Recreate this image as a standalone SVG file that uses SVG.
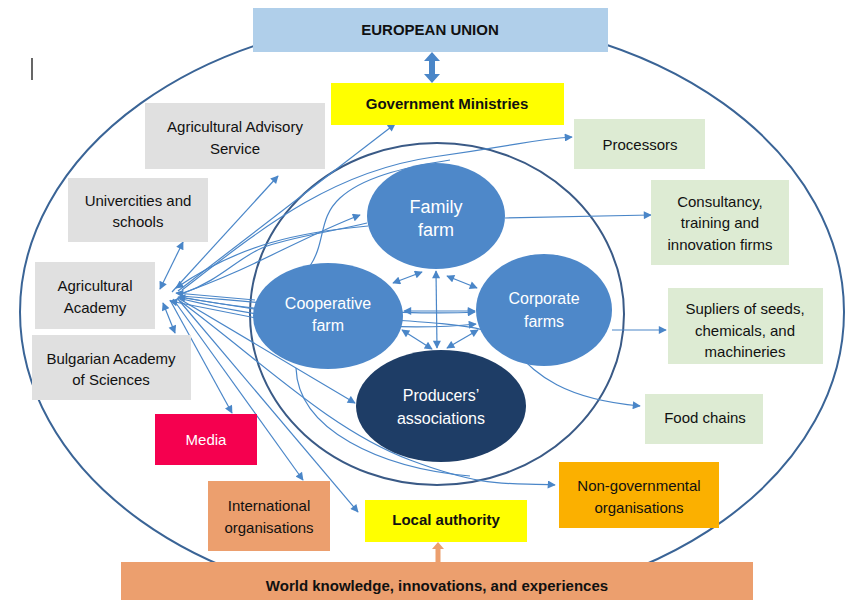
<svg xmlns="http://www.w3.org/2000/svg" width="866" height="609" viewBox="0 0 866 609">
<defs>
<style>
.t{font-family:"Liberation Sans",Arial,sans-serif;font-size:15px;fill:#111;text-anchor:middle}
.b{font-weight:bold}
.w{fill:#fff}
.gray{fill:#e0e0e0}
.green{fill:#ddebd3}
.yel{fill:#ffff00}
.orng{fill:#ec9f6e}
.c{fill:none;stroke:#4a86c8;stroke-width:1.2}
.farm{fill:#4e88c9}
</style>
<marker id="ah" viewBox="0 0 10 10" refX="9" refY="5" markerWidth="10" markerHeight="8" markerUnits="userSpaceOnUse" orient="auto-start-reverse">
<path d="M0,0 L10,5 L0,10 z" fill="#4a86c8"/>
</marker>
<clipPath id="clipTop"><rect x="0" y="0" width="866" height="600"/></clipPath>
</defs>
<rect width="866" height="609" fill="#fff"/>
<line x1="32" y1="58" x2="32" y2="80" stroke="#000" stroke-width="1.2"/>
<ellipse cx="432" cy="312" rx="412" ry="295" fill="none" stroke="#3a6496" stroke-width="2" clip-path="url(#clipTop)"/>
<ellipse cx="437" cy="314" rx="187" ry="171" fill="none" stroke="#3a5a86" stroke-width="2"/>

<g id="connectors">
<path class="c" d="M172,292 L278,176" marker-end="url(#ah)"/>
<path class="c" d="M160,289 L183,242" marker-start="url(#ah)" marker-end="url(#ah)"/>
<path class="c" d="M178,291 L395,124" marker-end="url(#ah)"/>
<path class="c" d="M180,294 C250,270 300,238 360,215" marker-end="url(#ah)"/>
<path class="c" d="M368,226 C300,232 240,244 176,288" marker-end="url(#ah)"/>
<path class="c" d="M182,290 C260,230 330,172 433,157 S530,140 572,137" marker-end="url(#ah)"/>
<path class="c" d="M310,266 C326,242 318,218 340,198 S400,168 450,160"/>
<path class="c" d="M184,293 C220,280 238,258 262,248 S330,232 367,223"/>
<path class="c" d="M255,300 L176,293" marker-end="url(#ah)"/>
<path class="c" d="M254,309 L178,297" marker-end="url(#ah)"/>
<path class="c" d="M256,318 L170,301" marker-end="url(#ah)"/>
<path class="c" d="M182,296 C300,306 400,316 475,312" marker-end="url(#ah)"/>
<path class="c" d="M182,299 C300,328 420,330 476,324" marker-end="url(#ah)"/>
<path class="c" d="M178,298 L355,403" marker-end="url(#ah)"/>
<path class="c" d="M163,303 L175,333" marker-start="url(#ah)" marker-end="url(#ah)"/>
<path class="c" d="M170,300 L232,413" marker-end="url(#ah)"/>
<path class="c" d="M173,299 L303,480" marker-end="url(#ah)"/>
<path class="c" d="M177,298 L358,512" marker-end="url(#ah)"/>
<path class="c" d="M180,301 C260,360 330,430 410,460 S510,482 555,485" marker-end="url(#ah)"/>
<path class="c" d="M296,368 C298,430 380,468 470,476"/>
<path class="c" d="M181,297 C300,320 440,318 483,330 S520,395 640,406" marker-end="url(#ah)"/>
<path class="c" d="M505,218 L651,215" marker-end="url(#ah)"/>
<path class="c" d="M612,330 L666,330" marker-end="url(#ah)"/>
</g>

<g id="cooperative-farm"><ellipse class="farm" cx="328" cy="316" rx="75" ry="53"/><text class="t w" style="font-size:16px" x="328" y="309">Cooperative</text><text class="t w" style="font-size:16px" x="328" y="331">farm</text></g>
<g id="family-farm"><ellipse class="farm" cx="436" cy="216" rx="69" ry="53"/><text class="t w" style="font-size:18px" x="436" y="213">Family</text><text class="t w" style="font-size:18px" x="436" y="236">farm</text></g>
<g id="corporate-farms"><ellipse class="farm" cx="544" cy="310" rx="68" ry="56"/><text class="t w" style="font-size:16px" x="544" y="304">Corporate</text><text class="t w" style="font-size:16px" x="544" y="327">farms</text></g>
<g id="producers-associations"><ellipse cx="441" cy="406" rx="85" ry="56" fill="#1e3d66"/><text class="t w" style="font-size:16px" x="441" y="401">Producers’</text><text class="t w" style="font-size:16px" x="441" y="424">associations</text></g>

<g id="farm-links">
<path class="c" d="M393,283 L422,272" marker-start="url(#ah)" marker-end="url(#ah)"/>
<path class="c" d="M447,276 L477,288" marker-start="url(#ah)" marker-end="url(#ah)"/>
<path class="c" d="M436,271 L437,348" marker-start="url(#ah)" marker-end="url(#ah)"/>
<path class="c" d="M404,311 L475,311" marker-start="url(#ah)" marker-end="url(#ah)"/>
<path class="c" d="M402,330 L432,349" marker-start="url(#ah)" marker-end="url(#ah)"/>
<path class="c" d="M447,348 L478,330" marker-start="url(#ah)" marker-end="url(#ah)"/>
</g>

<g id="european-union"><rect x="253" y="8" width="355" height="44" fill="#b0cfea"/><text class="t b" x="430" y="35">EUROPEAN UNION</text></g>
<polygon points="432,52 440,61 435,61 435,74 440,74 432,83 424,74 429,74 429,61 424,61" fill="#4a86c8"/>
<g id="government-ministries"><rect x="331" y="83" width="233" height="42" class="yel"/><text class="t b" x="447" y="109">Government Ministries</text></g>
<g id="agricultural-advisory-service"><rect x="145" y="103" width="180" height="66" class="gray"/><text class="t" x="235" y="132">Agricultural Advisory</text><text class="t" x="235" y="154">Service</text></g>
<g id="universities"><rect x="68" y="178" width="140" height="64" class="gray"/><text class="t" x="138" y="206">Univercities and</text><text class="t" x="138" y="227">schools</text></g>
<g id="agricultural-academy"><rect x="35" y="262" width="120" height="67" class="gray"/><text class="t" x="95" y="291">Agricultural</text><text class="t" x="95" y="313">Academy</text></g>
<g id="bulgarian-academy"><rect x="32" y="335" width="159" height="65" class="gray"/><text class="t" x="111" y="364">Bulgarian Academy</text><text class="t" x="111" y="385">of Sciences</text></g>
<g id="media"><rect x="155" y="414" width="102" height="51" fill="#f5004f"/><text class="t w" x="206" y="445">Media</text></g>
<g id="international-organisations"><rect x="208" y="481" width="122" height="70" class="orng"/><text class="t" x="269" y="511">International</text><text class="t" x="269" y="533">organisations</text></g>
<g id="local-authority"><rect x="365" y="500" width="162" height="42" class="yel"/><text class="t b" x="446" y="525">Local authority</text></g>
<g id="non-governmental-organisations"><rect x="559" y="462" width="160" height="66" fill="#fbb000"/><text class="t" x="639" y="491">Non-governmental</text><text class="t" x="639" y="513">organisations</text></g>
<g id="food-chains"><rect x="645" y="394" width="118" height="50" class="green"/><text class="t" x="705" y="423">Food chains</text></g>
<g id="suppliers"><rect x="668" y="288" width="155" height="76" class="green"/><text class="t" x="745" y="314">Supliers of seeds,</text><text class="t" x="745" y="336">chemicals, and</text><text class="t" x="745" y="357">machineries</text></g>
<g id="consultancy"><rect x="651" y="180" width="138" height="85" class="green"/><text class="t" x="720" y="207">Consultancy,</text><text class="t" x="720" y="228">training and</text><text class="t" x="720" y="250">innovation firms</text></g>
<g id="processors"><rect x="574" y="119" width="131" height="50" class="green"/><text class="t" x="640" y="150">Processors</text></g>
<g id="world-knowledge"><rect x="121" y="562" width="632" height="38" class="orng"/><text class="t b" x="437" y="591">World knowledge, innovations, and experiences</text></g>
<polygon points="438,542 444,549 440.5,549 440.5,562 435.5,562 435.5,549 432,549" fill="#ec9f6e"/>
</svg>
